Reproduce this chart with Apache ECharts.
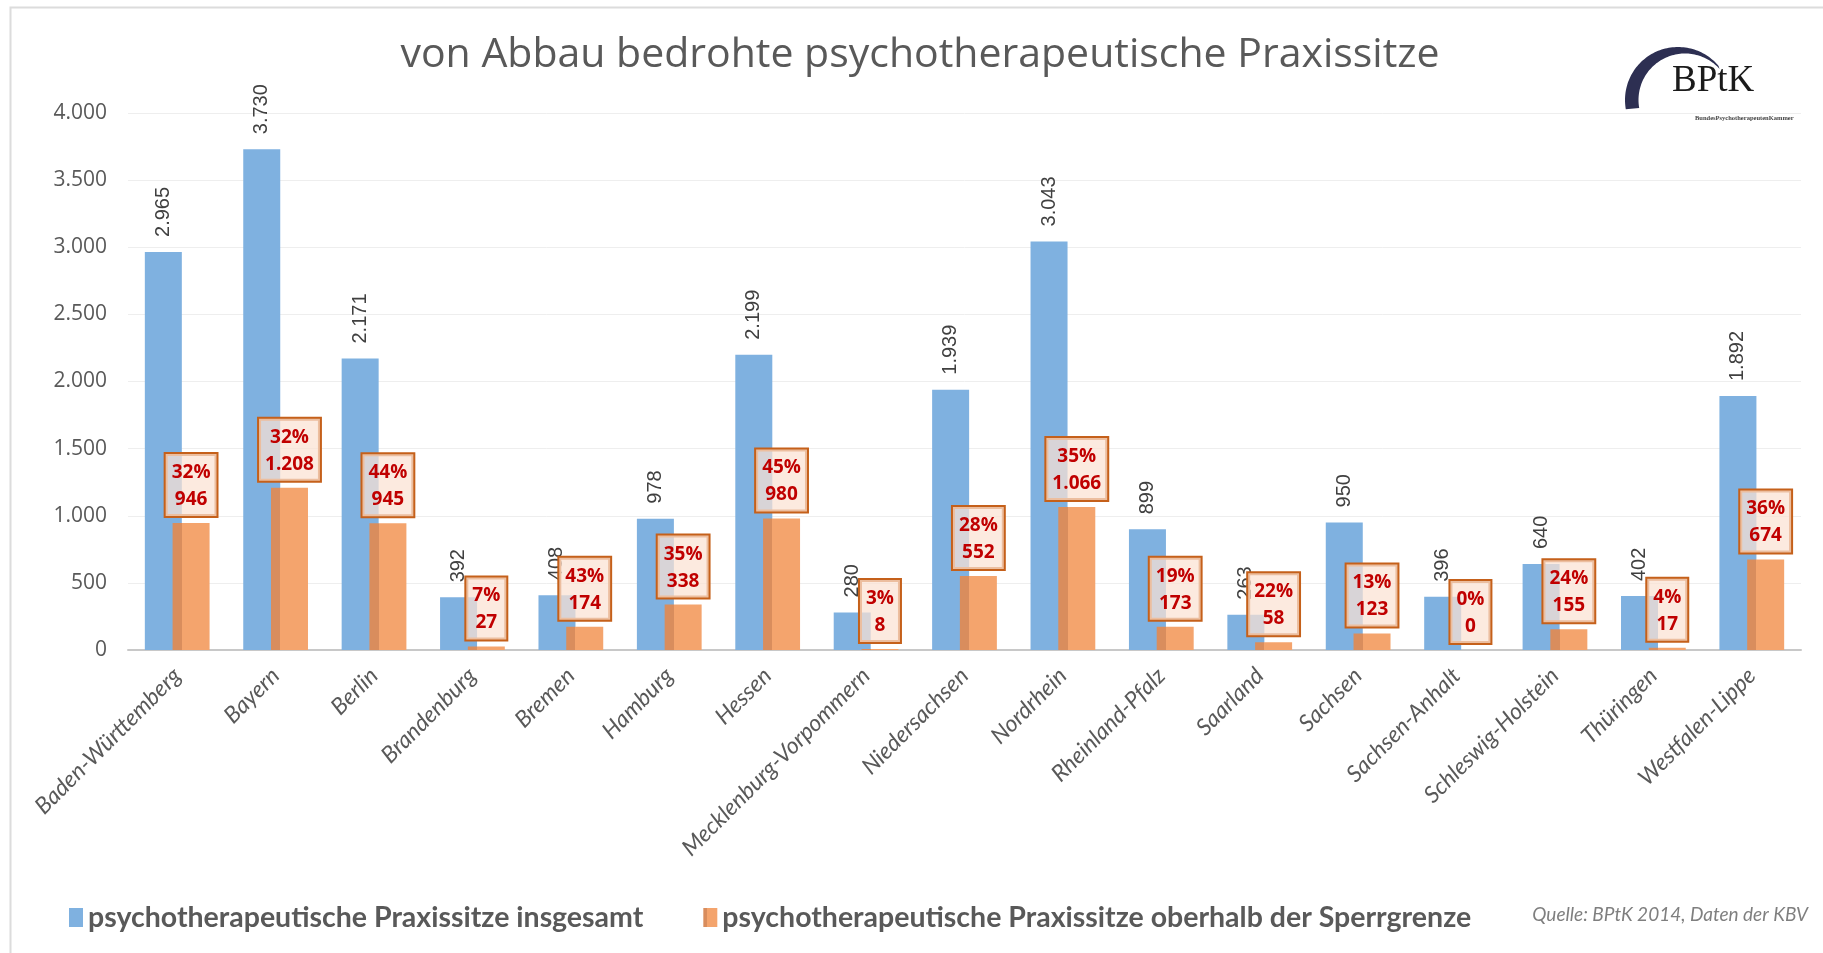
<!DOCTYPE html>
<html>
<head>
<meta charset="utf-8">
<script src="https://cdn.jsdelivr.net/npm/echarts@6/dist/echarts.min.js"></script>
<style>
html,body{margin:0;padding:0;background:#fff;}
#chart{width:1823px;height:953px;}
</style>
</head>
<body>
<div id="chart"></div>
<script>
const categories = ['Baden-Württemberg','Bayern','Berlin','Brandenburg','Bremen','Hamburg','Hessen','Mecklenburg-Vorpommern','Niedersachsen','Nordrhein','Rheinland-Pfalz','Saarland','Sachsen','Sachsen-Anhalt','Schleswig-Holstein','Thüringen','Westfalen-Lippe'];
const totalSeats = [2965,3730,2171,392,408,978,2199,280,1939,3043,899,263,950,396,640,402,1892];
const aboveLimit = [946,1208,945,27,174,338,980,8,552,1066,173,58,123,0,155,17,674];
const percentAbove = [32,32,44,7,43,35,45,3,28,35,19,22,13,0,24,4,36];
const yTicks = [0,500,1000,1500,2000,2500,3000,3500,4000];

const seriesNames = ['psychotherapeutische Praxissitze insgesamt','psychotherapeutische Praxissitze oberhalb der Sperrgrenze'];
const titleText = 'von Abbau bedrohte psychotherapeutische Praxissitze';
const sourceText = 'Quelle: BPtK 2014, Daten der KBV';

function de(n){ return String(n).replace(/\B(?=(\d{3})+(?!\d))/g,'.'); }

// logo crescent outline (decoration)
function crescent(){
  const pts = [];
  const oc = [1678,100], orad = 53, ic = [1685,100], irad = 46.5;
  for (let a = 190; a >= 40; a -= 2) {
    const r = a*Math.PI/180;
    pts.push([oc[0]+orad*Math.cos(r), oc[1]-orad*Math.sin(r)]);
  }
  for (let a = 42; a <= 190; a += 2) {
    const r = a*Math.PI/180;
    pts.push([ic[0]+irad*Math.cos(r), ic[1]-irad*Math.sin(r)]);
  }
  return pts;
}

const chart = echarts.init(document.getElementById('chart'), null, {renderer:'canvas'});
const option = {
  backgroundColor:'#ffffff',
  animation:false,
  grid:{left:128, right:22, top:113, bottom:303, containLabel:false},
  legend:{
    left:64, top:898, itemWidth:14, itemHeight:19, itemGap:60, icon:'rect',
    textStyle:{fontFamily:'Lato', fontWeight:'bold', fontSize:28.5, color:'#595959'},
    data:seriesNames
  },
  xAxis:{
    type:'category', data:categories,
    axisLine:{lineStyle:{color:'#c8c8c8', width:2}},
    axisTick:{show:false},
    axisLabel:{interval:0, rotate:45, margin:22, fontFamily:'Lato', fontStyle:'italic', fontSize:23, color:'#595959'}
  },
  yAxis:{
    type:'value', min:yTicks[0], max:yTicks[yTicks.length-1], interval:500,
    axisLine:{show:false}, axisTick:{show:false},
    splitLine:{lineStyle:{color:'#eeeeee', width:1}},
    axisLabel:{margin:21, fontFamily:'Open Sans', fontSize:21, color:'#595959', formatter:v=>de(v)}
  },
  series:[
    {
      name:seriesNames[0], type:'bar', data:totalSeats, barWidth:37, barGap:'-25%',
      itemStyle:{color:'#7fb1e0'},
      label:{show:true, position:'top', distance:15, rotate:90, align:'left', verticalAlign:'middle',
        fontFamily:'Liberation Sans', fontSize:20, color:'#404040', formatter:p=>de(p.value)},
      z:2
    },
    {
      name:seriesNames[1], type:'bar', data:aboveLimit, barWidth:37,
      itemStyle:{color:{type:'linear',x:0,y:0,x2:1,y2:0,colorStops:[
        {offset:0,color:'#d98d5d'},{offset:0.25,color:'#d98d5d'},{offset:0.25,color:'#f4a46d'},{offset:1,color:'#f4a46d'}]}},
      label:{show:true, position:'top', distance:7,
        backgroundColor:'rgba(251,226,211,0.72)', borderColor:'#c5601a', borderWidth:2,
        padding:[5,6,3,6], lineHeight:27,
        fontFamily:'Open Sans', fontWeight:'bold', fontSize:19, color:'#c00000',
        formatter:p=>percentAbove[p.dataIndex]+'%\n'+de(p.value)},
      z:3
    }
  ],
  graphic:[
    {type:'rect', left:8, top:5, z:-1, silent:true,
      shape:{x:0,y:0,width:1830,height:960}, style:{fill:'none', stroke:'#dcdcdc', lineWidth:2}},
    {type:'text', x:920, y:55, z:10, silent:true,
      style:{text:titleText, font:'41px "Open Sans"', fill:'#595959', textAlign:'center', textVerticalAlign:'middle'}},
    {type:'polygon', silent:true, z:10,
      shape:{points:crescent()}, style:{fill:'#2d2f52'}},
    {type:'text', x:1672, y:100, z:10, silent:true,
      style:{text:'BPtK', font:'37px "Liberation Serif"', fill:'#1b1b1b', textAlign:'left', textVerticalAlign:'bottom'}},
    {type:'text', x:1695, y:118, z:10, silent:true,
      style:{text:'BundesPsychotherapeutenKammer', font:'bold 6.5px "Liberation Sans Narrow"', fill:'#444', textAlign:'left', textVerticalAlign:'middle'}},
    {type:'text', x:1808, y:915, z:10, silent:true,
      style:{text:sourceText, font:'italic 19px Lato', fill:'#7f7f7f', textAlign:'right', textVerticalAlign:'middle'}}
  ]
};
chart.setOption(option);
</script>
</body>
</html>
